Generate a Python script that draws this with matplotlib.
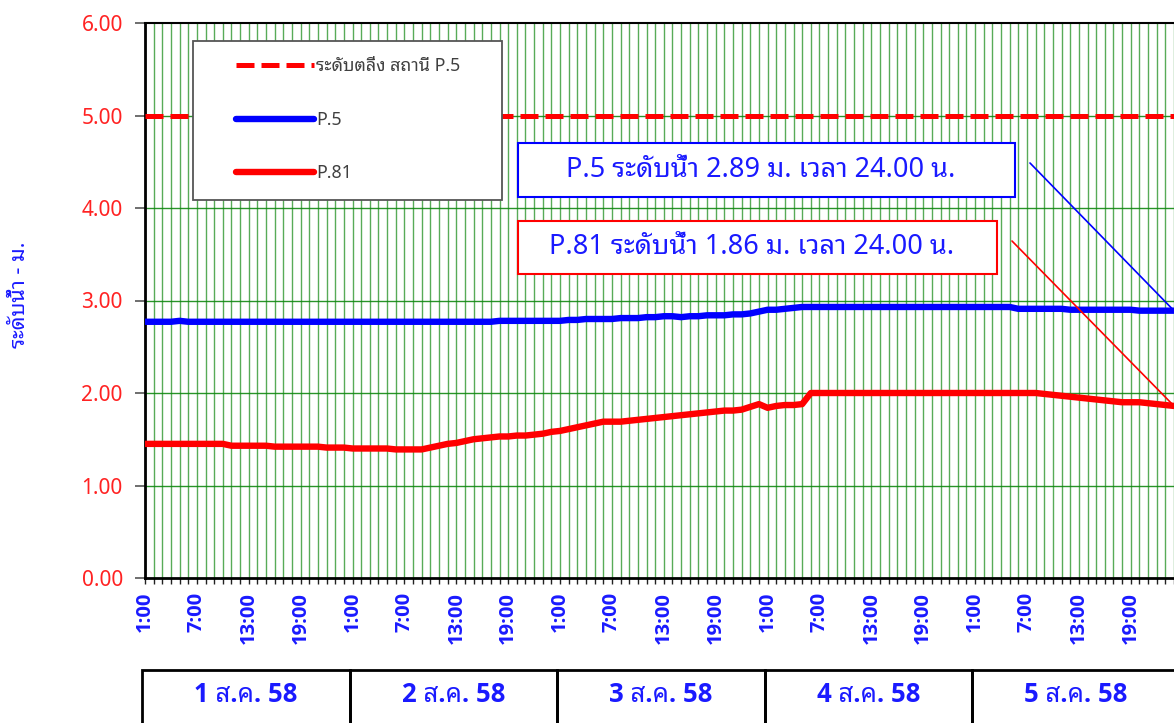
import matplotlib
matplotlib.use("Agg")
import matplotlib.pyplot as plt
from matplotlib.patches import Rectangle
from matplotlib.transforms import blended_transform_factory
import numpy as np

plt.rcParams['font.family'] = ['Noto Sans', 'Noto Sans Thai Looped', 'DejaVu Sans']
BOLD_FAMILY = ['Open Sans', 'Noto Sans Thai Looped', 'DejaVu Sans']

# ---------------- data ----------------
DAYS = ["1 ส.ค. 58", "2 ส.ค. 58", "3 ส.ค. 58", "4 ส.ค. 58", "5 ส.ค. 58"]
HOUR_LABELS = ["1:00", "7:00", "13:00", "19:00"]
BANK_LEVEL = 5.00

P5 = [
    2.77, 2.77, 2.77, 2.77, 2.78, 2.77, 2.77, 2.77, 2.77, 2.77, 2.77, 2.77,
    2.77, 2.77, 2.77, 2.77, 2.77, 2.77, 2.77, 2.77, 2.77, 2.77, 2.77, 2.77,
    2.77, 2.77, 2.77, 2.77, 2.77, 2.77, 2.77, 2.77, 2.77, 2.77, 2.77, 2.77,
    2.77, 2.77, 2.77, 2.77, 2.77, 2.78, 2.78, 2.78, 2.78, 2.78, 2.78, 2.78,
    2.78, 2.79, 2.79, 2.80, 2.80, 2.80, 2.80, 2.81, 2.81, 2.81, 2.82, 2.82,
    2.83, 2.83, 2.82, 2.83, 2.83, 2.84, 2.84, 2.84, 2.85, 2.85, 2.86, 2.88,
    2.90, 2.90, 2.91, 2.92, 2.93, 2.93, 2.93, 2.93, 2.93, 2.93, 2.93, 2.93,
    2.93, 2.93, 2.93, 2.93, 2.93, 2.93, 2.93, 2.93, 2.93, 2.93, 2.93, 2.93,
    2.93, 2.93, 2.93, 2.93, 2.93, 2.91, 2.91, 2.91, 2.91, 2.91, 2.91, 2.90,
    2.90, 2.90, 2.90, 2.90, 2.90, 2.90, 2.90, 2.89, 2.89, 2.89, 2.89, 2.89,
]

P81 = [
    1.45, 1.45, 1.45, 1.45, 1.45, 1.45, 1.45, 1.45, 1.45, 1.45, 1.43, 1.43,
    1.43, 1.43, 1.43, 1.42, 1.42, 1.42, 1.42, 1.42, 1.42, 1.41, 1.41, 1.41,
    1.40, 1.40, 1.40, 1.40, 1.40, 1.39, 1.39, 1.39, 1.39, 1.41, 1.43, 1.45,
    1.46, 1.48, 1.50, 1.51, 1.52, 1.53, 1.53, 1.54, 1.54, 1.55, 1.56, 1.58,
    1.59, 1.61, 1.63, 1.65, 1.67, 1.69, 1.69, 1.69, 1.70, 1.71, 1.72, 1.73,
    1.74, 1.75, 1.76, 1.77, 1.78, 1.79, 1.80, 1.81, 1.81, 1.82, 1.85, 1.88,
    1.84, 1.86, 1.87, 1.87, 1.88, 2.00, 2.00, 2.00, 2.00, 2.00, 2.00, 2.00,
    2.00, 2.00, 2.00, 2.00, 2.00, 2.00, 2.00, 2.00, 2.00, 2.00, 2.00, 2.00,
    2.00, 2.00, 2.00, 2.00, 2.00, 2.00, 2.00, 2.00, 1.99, 1.98, 1.97, 1.96,
    1.95, 1.94, 1.93, 1.92, 1.91, 1.90, 1.90, 1.90, 1.89, 1.88, 1.87, 1.86,
]

LEGEND_LABELS = ["ระดับตลิ่ง สถานี P.5", "P.5", "P.81"]
NOTE_P5 = "P.5 ระดับน้ำ 2.89 ม. เวลา 24.00 น."
NOTE_P81 = "P.81 ระดับน้ำ 1.86 ม. เวลา 24.00 น."
YLABEL = "ระดับน้ำ - ม."

# ---------------- figure ----------------
W, H = 1174, 723
fig = plt.figure(figsize=(W / 100, H / 100), dpi=100)
L, R, T, B = 145, 1174, 23, 578
ax = fig.add_axes([L / W, 1 - B / H, (R - L) / W, (B - T) / H])

n = len(P5)
x = np.arange(n)

GREEN = '#118811'
# grid
for xv in x:
    ax.axvline(xv, color=GREEN, lw=1.0, alpha=0.7, zorder=0)
for yv in np.arange(1, 6):
    ax.axhline(yv, color=GREEN, lw=1.0, alpha=0.9, zorder=0)

bank, = ax.plot(x, [BANK_LEVEL] * n, color='#ff0000', lw=3.6,
                dashes=(3.6, 1.4), zorder=3)
l5, = ax.plot(x, P5, color='#0000ff', lw=4.6, solid_capstyle='round',
              solid_joinstyle='round', zorder=4)
l81, = ax.plot(x, P81, color='#ff0000', lw=4.6, solid_capstyle='round',
               solid_joinstyle='round', zorder=4)

ax.set_xlim(0, n - 1)
ax.set_ylim(0, 6)

# y axis
ax.set_yticks(np.arange(0, 7))
ax.set_yticklabels([f"{v:.2f}" for v in np.arange(0, 7)])
ax.tick_params(axis='y', direction='out', length=7, width=1.2, color='#555555',
               labelsize=15, labelcolor='#ff2222', pad=9)
ax.set_ylabel(YLABEL, color='#1a1aff', fontsize=15.5)
ax.yaxis.set_label_coords(-(L - 30) / (R - L), (B - 295) / (B - T))

# x axis
ax.set_xticks(x, minor=True)
major = x[::6]
ax.set_xticks(major)
ax.set_xticklabels([HOUR_LABELS[i % 4] for i in range(len(major))],
                   rotation=90, fontweight='bold', family=BOLD_FAMILY)
ax.tick_params(axis='x', which='both', direction='out', length=4, width=1,
               color='#222222', labelsize=14.5, labelcolor='#1a1aff', pad=6)

for s in ['left', 'bottom']:
    ax.spines[s].set_linewidth(2)
    ax.spines[s].set_color('black')
ax.spines['top'].set_linewidth(1.5)
ax.spines['right'].set_visible(False)

# legend frame + legend
ax.add_patch(Rectangle(((193 - L) / (R - L), (B - 200) / (B - T)),
                       (502 - 193) / (R - L), (200 - 41) / (B - T),
                       transform=ax.transAxes, facecolor='white',
                       edgecolor='#555555', lw=1.3, zorder=5))
leg = ax.legend([bank, l5, l81], LEGEND_LABELS, loc='upper left',
                bbox_to_anchor=((222 - L) / (R - L), (B - 43) / (B - T)),
                frameon=False, fontsize=12.8, handlelength=4.4, handletextpad=0.1,
                labelspacing=2.0, borderpad=0.3, labelcolor='#404040')
leg.set_zorder(6)

# annotation boxes
def note_box(x0, y0, x1, y1, edge, text):
    ax.add_patch(Rectangle(((x0 - L) / (R - L), (B - y1) / (B - T)),
                           (x1 - x0) / (R - L), (y1 - y0) / (B - T),
                           transform=ax.transAxes, facecolor='white',
                           edgecolor=edge, lw=1.5, zorder=5))
    ax.text(((x0 + x1) / 2 - 6 - L) / (R - L), (B - (y0 + y1) / 2) / (B - T), text,
            transform=ax.transAxes, ha='center', va='center', color='#1a1aff',
            fontsize=19.5, zorder=6)

note_box(518, 143, 1015, 197, '#0000ff', NOTE_P5)
note_box(518, 221, 997, 274, '#ff0000', NOTE_P81)

ax.annotate('', xy=(n - 1, P5[-1]), xycoords='data',
            xytext=((1030 - L) / (R - L), (B - 163) / (B - T)), textcoords='axes fraction',
            arrowprops=dict(arrowstyle='-', color='#0000ff', lw=1.2,
                            shrinkA=0, shrinkB=0), zorder=5)
ax.annotate('', xy=(n - 1, P81[-1]), xycoords='data',
            xytext=((1012 - L) / (R - L), (B - 241) / (B - T)), textcoords='axes fraction',
            arrowprops=dict(arrowstyle='-', color='#ff0000', lw=1.2,
                            shrinkA=0, shrinkB=0), zorder=5)

# date table under the axis
tr = blended_transform_factory(ax.transData, fig.transFigure)
top = 1 - 670 / H
for k, d in enumerate(DAYS):
    x0 = -0.35 + 24 * k
    ax.add_patch(Rectangle((x0, -0.1), 24, top + 0.1, transform=tr,
                           facecolor='none', edgecolor='black', lw=2,
                           clip_on=False))
    ax.text(x0 + 12, 1 - 695 / H, d, transform=tr, ha='center', va='center',
            color='#1a1aff', fontsize=18.5, fontweight='bold', family=BOLD_FAMILY,
            clip_on=False)

fig.savefig("out.png", dpi=100)
